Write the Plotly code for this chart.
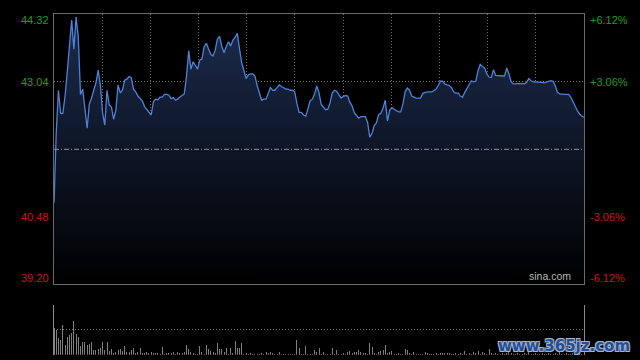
import plotly.graph_objects as go

# ---- data ----
prev_close = 41.76
minutes = list(range(241))
price = [
    40.74, 42.06, 42.88, 42.44, 42.44, 42.77, 43.23, 43.68, 44.21, 43.66,
    44.27, 43.89, 42.80, 42.90, 42.50, 42.16, 42.62, 42.73, 42.88, 43.02,
    43.26, 42.98, 42.45, 42.22, 42.88, 42.60, 42.56, 42.33, 42.50, 42.98,
    42.83, 42.88, 43.07, 43.09, 43.14, 43.12, 42.90, 42.85, 42.77, 42.72,
    42.68, 42.57, 42.52, 42.47, 42.41, 42.66, 42.71, 42.70, 42.75, 42.75,
    42.80, 42.80, 42.79, 42.72, 42.74, 42.69, 42.71, 42.75, 42.78, 42.81,
    43.14, 43.63, 43.28, 43.42, 43.35, 43.28, 43.45, 43.47, 43.71, 43.77,
    43.66, 43.56, 43.53, 43.64, 43.85, 43.90, 43.71, 43.59, 43.71, 43.80,
    43.72, 43.83, 43.88, 43.96, 43.67, 43.40, 43.25, 43.10, 43.17, 43.19,
    43.19, 43.15, 42.97, 42.85, 42.69, 42.71, 42.71, 42.82, 42.93, 42.88,
    42.88, 42.93, 42.98, 42.95, 42.92, 42.90, 42.90, 42.88, 42.88, 42.85,
    42.63, 42.46, 42.46, 42.41, 42.39, 42.54, 42.68, 42.71, 42.81, 42.96,
    42.83, 42.61, 42.56, 42.51, 42.52, 42.64, 42.83, 42.88, 42.86, 42.78,
    42.73, 42.76, 42.78, 42.77, 42.65, 42.58, 42.45, 42.40, 42.35, 42.38,
    42.38, 42.38, 42.27, 41.99, 42.06, 42.21, 42.26, 42.42, 42.44, 42.54,
    42.69, 42.30, 42.50, 42.55, 42.52, 42.50, 42.47, 42.47, 42.62, 42.85,
    42.92, 42.88, 42.77, 42.75, 42.73, 42.73, 42.73, 42.82, 42.84, 42.85,
    42.85, 42.85, 42.87, 42.90, 42.97, 43.05, 43.05, 43.00, 42.98, 42.97,
    42.93, 42.85, 42.82, 42.83, 42.77, 42.75, 42.84, 42.92, 43.01, 43.06,
    43.04, 43.05, 43.25, 43.37, 43.33, 43.30, 43.19, 43.13, 43.12, 43.27,
    43.16, 43.16, 43.15, 43.15, 43.15, 43.30, 43.19, 43.04, 43.00, 43.00,
    43.01, 43.00, 43.01, 43.00, 43.03, 43.10, 43.06, 43.04, 43.04, 43.04,
    43.03, 43.03, 43.02, 43.04, 43.05, 43.06, 43.05, 42.96, 42.84, 42.81,
    42.80, 42.80, 42.80, 42.80, 42.75, 42.66, 42.56, 42.49, 42.43, 42.39,
    42.37,
]
volume = [
    2700, 2500, 1700, 1500, 3000, 1000, 1800, 2000, 2200, 3400,
    2100, 1800, 900, 1300, 1300, 1000, 1100, 1300, 500, 500,
    600, 700, 1300, 500, 1300, 400, 600, 200, 300, 500,
    600, 400, 900, 300, 300, 500, 700, 200, 300, 700,
    200, 200, 300, 200, 300, 200, 200, 200, 100, 800,
    100, 200, 200, 200, 300, 100, 300, 200, 200, 300,
    1000, 600, 300, 200, 100, 100, 900, 300, 100, 1000,
    600, 400, 300, 200, 1200, 600, 600, 300, 700, 100,
    700, 200, 1400, 700, 700, 1200, 100, 200, 100, 200,
    100, 100, 100, 100, 200, 100, 300, 200, 300, 200,
    100, 100, 300, 100, 100, 100, 100, 100, 100, 100,
    1500, 700, 100, 100, 900, 100, 100, 100, 500, 300,
    700, 100, 300, 100, 100, 100, 700, 100, 500, 100,
    100, 200, 100, 300, 400, 200, 300, 300, 500, 300,
    200, 200, 100, 1200, 800, 200, 100, 300, 400, 500,
    1000, 200, 300, 400, 100, 100, 200, 100, 100, 600,
    500, 200, 100, 300, 100, 100, 100, 100, 300, 200,
    100, 100, 100, 200, 100, 200, 200, 200, 200, 200,
    100, 100, 200, 100, 200, 100, 400, 100, 200, 100,
    300, 200, 400, 100, 300, 200, 100, 600, 200, 100,
    200, 100, 100, 200, 100, 200, 500, 200, 100, 100,
    200, 100, 100, 200, 100, 300, 100, 100, 200, 100,
    100, 200, 100, 100, 200, 100, 100, 200, 100, 300,
    100, 100, 200, 100, 100, 200, 100, 200, 100, 100,
    300,
]
left_labels = ["44.32", "43.04", "40.48", "39.20"]
left_values = [44.32, 43.04, 40.48, 39.20]
right_labels = ["+6.12%", "+3.06%", "-3.06%", "-6.12%"]
label_colors = ["#1f9f1f", "#1f9f1f", "#d01414", "#d01414"]
label_shift = [-6, 0, 0, 6]

y_min, y_max = 39.20, 44.32
grid_x = [240 * k / 11 for k in range(1, 11)]
vol_max = 5000

fig = go.Figure()
fig.add_trace(go.Scatter(
    x=minutes, y=price, mode="lines",
    line=dict(color="#4d82d8", width=1.3),
    fill="tozeroy",
    fillgradient=dict(type="vertical",
                      colorscale=[[0, "#000000"], [1, "#1c2c4d"]],
                      start=y_min, stop=y_max),
    hoverinfo="skip", xaxis="x", yaxis="y",
))
fig.add_trace(go.Bar(
    x=minutes, y=volume, width=0.45,
    marker=dict(color="#808080", line=dict(width=0)),
    hoverinfo="skip", xaxis="x2", yaxis="y2",
))

ann = []
for lab, val, rlab, col, sh in zip(left_labels, left_values, right_labels,
                                     label_colors, label_shift):
    ann.append(dict(x=0, xref="paper", y=val, yref="y", text=lab,
                    xanchor="right", yanchor="middle", xshift=-3, yshift=sh,
                    showarrow=False,
                    font=dict(family="Liberation Sans, Arial", size=11, color=col)))
    ann.append(dict(x=1, xref="paper", y=val, yref="y", text=rlab,
                    xanchor="left", yanchor="middle", xshift=4, yshift=sh,
                    showarrow=False,
                    font=dict(family="Liberation Sans, Arial", size=11, color=col)))
ann.append(dict(x=1, xref="paper", y=y_min, yref="y", text="sina.com",
                xanchor="right", yanchor="bottom", xshift=-11, yshift=0,
                showarrow=False,
                font=dict(family="Liberation Sans, Arial", size=10.5, color="#b4b4b4")))
ann.append(dict(x=1, xref="paper", y=14 / 360, yref="paper", text="www.365jz.com",
                xanchor="right", yanchor="middle", xshift=48,
                showarrow=False,
                font=dict(family="DejaVu Sans", size=15, color="#1f4f9c", weight="bold",
                          shadow="1px 1px 0 #aab4c4, -1px -1px 0 #aab4c4, 1px -1px 0 #aab4c4, -1px 1px 0 #aab4c4")))

fig.update_layout(
    width=640, height=360,
    margin=dict(l=54, r=56, t=0, b=0, pad=0),
    paper_bgcolor="#000000", plot_bgcolor="#000000",
    showlegend=False, hovermode=False, bargap=0,
    xaxis=dict(domain=[0, 1], range=[0, 240], anchor="y",
               tickvals=grid_x, showticklabels=False, ticks="",
               showgrid=True, gridcolor="#6e6e6e", griddash="1px,2px", gridwidth=1,
               showline=True, mirror=True, linecolor="#6a6a6a", linewidth=1,
               zeroline=False, fixedrange=True),
    yaxis=dict(domain=[0.2103, 0.9603], range=[y_min, y_max], anchor="x",
               tickvals=[40.48, 43.04], showticklabels=False, ticks="",
               showgrid=True, gridcolor="#7a7a7a", griddash="1px,2px", gridwidth=1,
               showline=True, mirror=True, linecolor="#6a6a6a", linewidth=1,
               zeroline=False, fixedrange=True),
    xaxis2=dict(domain=[0, 1], range=[0, 240], anchor="y2",
                showticklabels=False, ticks="", showgrid=False,
                showline=False, zeroline=False, fixedrange=True),
    yaxis2=dict(domain=[0.0147, 0.1536], range=[0, vol_max], anchor="x2",
                tickvals=[vol_max / 2, vol_max], showticklabels=False, ticks="",
                showgrid=True, gridcolor="#7a7a7a", griddash="1px,2px", gridwidth=1,
                showline=True, mirror=True, linecolor="#8a8a8a", linewidth=1,
                zeroline=False, fixedrange=True),
    shapes=[dict(type="line", xref="x", yref="y", x0=0, x1=240,
                 y0=prev_close, y1=prev_close,
                 line=dict(color="#8d96a3", width=1, dash="5px,2px,1px,2px"),
                 layer="above")],
    annotations=ann,
)

fig.write_html("out.html", config={"displayModeBar": False, "staticPlot": True},
               post_script="document.body.style.margin='0';document.body.style.overflow='hidden';")
